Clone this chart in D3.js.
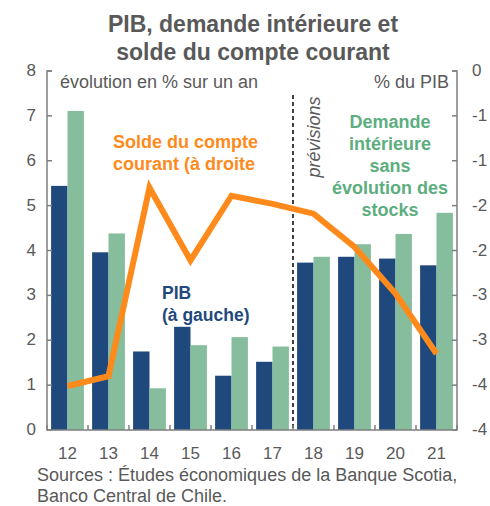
<!DOCTYPE html>
<html>
<head>
<meta charset="utf-8">
<script src="https://cdn.jsdelivr.net/npm/d3@7"></script>
<style>
  html, body { margin: 0; padding: 0; background: #fff; }
  svg { display: block; font-family: "Liberation Sans", Arial, sans-serif; }
</style>
</head>
<body>
<svg id="chart" width="490" height="506"></svg>
<script>
// Years (2012–2021, last four are forecasts)
const years = ["12", "13", "14", "15", "16", "17", "18", "19", "20", "21"];
// PIB, % change y/y (left axis)
const pib = [5.44, 3.96, 1.75, 2.30, 1.21, 1.52, 3.73, 3.86, 3.82, 3.67];
// Domestic demand excluding inventory change, % change y/y (left axis)
const demande = [7.11, 4.38, 0.93, 1.89, 2.07, 1.86, 3.86, 4.14, 4.37, 4.84];
// Current account balance, % of GDP (right axis)
const solde = [-3.51, -3.40, -1.30, -2.11, -1.39, -1.48, -1.59, -1.96, -2.48, -3.15];
// Axis ticks
const leftTicks = [0, 1, 2, 3, 4, 5, 6, 7, 8];
const rightTicks = [0, -0.5, -1, -1.5, -2, -2.5, -3, -3.5, -4];

const C = {
  blue: "#1f497d",
  green: "#86bd9c",
  greenText: "#5dae7f",
  orange: "#ff8a1c",
  axis: "#7f7f7f",
  text: "#595959"
};

const svg = d3.select("#chart");
const m = { left: 47, right: 457, top: 71, bottom: 430 };

const x = d3.scaleBand().domain(years).range([m.left, m.right])
  .paddingInner(0.2).paddingOuter(0.1);
const xs = d3.scaleBand().domain(["pib", "dem"]).range([0, x.bandwidth()]);
const yL = d3.scaleLinear().domain([0, 8]).range([m.bottom, m.top]);
const yR = d3.scaleLinear().domain([-4, 0]).range([m.bottom, m.top]);
const step = x.step();

// Title
svg.append("text").attr("x", 253).attr("y", 32).attr("text-anchor", "middle")
  .attr("font-size", 23).attr("font-weight", "bold").attr("fill", C.text)
  .text("PIB, demande intérieure et");
svg.append("text").attr("x", 253).attr("y", 60).attr("text-anchor", "middle")
  .attr("font-size", 23).attr("font-weight", "bold").attr("fill", C.text)
  .text("solde du compte courant");

// Bars
const g = svg.append("g");
years.forEach((yr, i) => {
  g.append("rect").attr("x", x(yr) + xs("pib")).attr("width", xs.bandwidth())
    .attr("y", yL(pib[i])).attr("height", yL(0) - yL(pib[i])).attr("fill", C.blue);
  g.append("rect").attr("x", x(yr) + xs("dem")).attr("width", xs.bandwidth())
    .attr("y", yL(demande[i])).attr("height", yL(0) - yL(demande[i])).attr("fill", C.green);
});

// Forecast separator
const sepX = x("18") - step * 0.1;
svg.append("line").attr("x1", sepX).attr("x2", sepX).attr("y1", 95).attr("y2", m.bottom)
  .attr("stroke", "#000").attr("stroke-width", 1.5).attr("stroke-dasharray", "4,3");
svg.append("text").attr("transform", `translate(${sepX + 27},137) rotate(-90)`)
  .attr("text-anchor", "middle").attr("font-size", 18).attr("font-style", "italic")
  .attr("fill", C.text).text("prévisions");

// Current-account line
const line = d3.line().x((d, i) => x(years[i]) + x.bandwidth() / 2).y(d => yR(d));
svg.append("path").datum(solde).attr("d", line).attr("fill", "none")
  .attr("stroke", C.orange).attr("stroke-width", 6).attr("stroke-linejoin", "miter");

// Axes
const ax = svg.append("g").attr("stroke", C.axis).attr("stroke-width", 1.5).attr("fill", "none");
ax.append("path").attr("d", `M${m.left + 5},${m.top}H${m.left}V${m.bottom}H${m.right}V${m.top}H${m.right - 5}`);
leftTicks.forEach(t => {
  ax.append("line").attr("x1", m.left).attr("x2", m.left + 5).attr("y1", yL(t)).attr("y2", yL(t));
});
rightTicks.forEach(t => {
  ax.append("line").attr("x1", m.right).attr("x2", m.right - 5).attr("y1", yR(t)).attr("y2", yR(t));
});
d3.range(years.length + 1).forEach(i => {
  const xx = m.left + i * step;
  ax.append("line").attr("x1", xx).attr("x2", xx).attr("y1", m.bottom).attr("y2", m.bottom - 5);
});

// Tick labels
const fmtR = v => { const r = Math.sign(v) * Math.round(Math.abs(v)); return r === 0 ? "0" : String(r); };
svg.append("g").selectAll("text").data(leftTicks).join("text")
  .attr("x", 36).attr("y", d => yL(d) + 5).attr("text-anchor", "end")
  .attr("font-size", 17).attr("fill", C.text).text(d => d);
svg.append("g").selectAll("text").data(rightTicks).join("text")
  .attr("x", 472).attr("y", d => yR(d) + 5).attr("text-anchor", "start")
  .attr("font-size", 17).attr("fill", C.text).text(fmtR);
svg.append("g").selectAll("text").data(years).join("text")
  .attr("x", d => x(d) + x.bandwidth() / 2).attr("y", 459).attr("text-anchor", "middle")
  .attr("font-size", 17).attr("fill", C.text).text(d => d);

// Axis units
svg.append("text").attr("x", 60).attr("y", 88).attr("font-size", 18).attr("fill", C.text)
  .text("évolution en % sur un an");
svg.append("text").attr("x", 449).attr("y", 88).attr("text-anchor", "end")
  .attr("font-size", 18).attr("fill", C.text).text("% du PIB");

// Series labels
function label(lines, xPos, y0, color, anchor, size) {
  const t = svg.append("text").attr("font-size", size).attr("font-weight", "bold")
    .attr("fill", color).attr("text-anchor", anchor);
  lines.forEach((s, i) => t.append("tspan").attr("x", xPos).attr("y", y0 + i * 22).text(s));
}
label(["Solde du compte", "courant (à droite"], 113, 148, C.orange, "start", 18);
label(["PIB", "(à gauche)"], 162, 299, C.blue, "start", 17.5);
label(["Demande", "intérieure", "sans", "évolution des", "stocks"], 390, 128, C.greenText, "middle", 18);

// Sources
svg.append("text").attr("x", 37).attr("y", 481).attr("font-size", 18).attr("fill", C.text)
  .text("Sources : Études économiques de la Banque Scotia,");
svg.append("text").attr("x", 37).attr("y", 502).attr("font-size", 18).attr("fill", C.text)
  .text("Banco Central de Chile.");
</script>
</body>
</html>
